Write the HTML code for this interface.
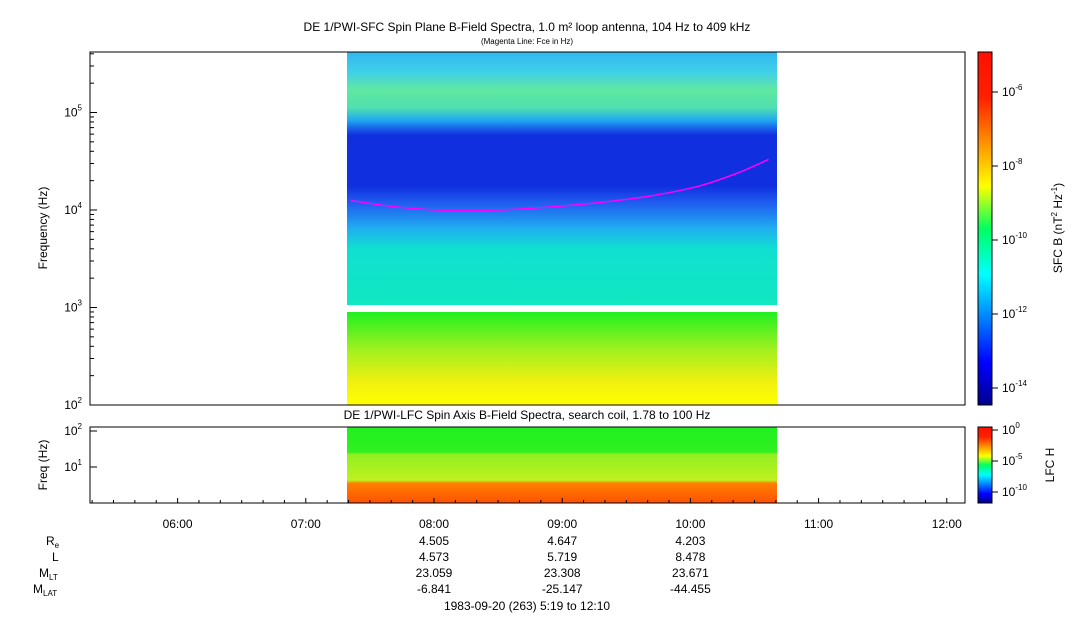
<!DOCTYPE html>
<html><head><meta charset="utf-8"><style>
body{margin:0;background:#fff;font-family:"Liberation Sans",sans-serif}
svg text{font-family:"Liberation Sans",sans-serif;fill:#000}
</style></head><body>
<svg id="c" width="1083" height="620" xmlns="http://www.w3.org/2000/svg">
<defs>
<linearGradient id="jet" x1="0" y1="1" x2="0" y2="0">
<stop offset="0" stop-color="#00008f"/><stop offset="0.12" stop-color="#0000ff"/><stop offset="0.37" stop-color="#00ffff"/><stop offset="0.5" stop-color="#00ff60"/><stop offset="0.62" stop-color="#ffff00"/><stop offset="0.87" stop-color="#ff2000"/><stop offset="1" stop-color="#ff1000"/>
</linearGradient>
<linearGradient id="topband" x1="0" y1="0" x2="0" y2="1">
<stop offset="0" stop-color="#30b8f0"/><stop offset="0.08" stop-color="#40d0e8"/><stop offset="0.15" stop-color="#60e8a0"/><stop offset="0.22" stop-color="#50e0b0"/><stop offset="0.27" stop-color="#20a8f0"/><stop offset="0.31" stop-color="#1850e8"/><stop offset="0.33" stop-color="#1030e0"/><stop offset="0.53" stop-color="#1030e0"/><stop offset="0.6" stop-color="#2060f0"/><stop offset="0.7" stop-color="#20b0f0"/><stop offset="0.78" stop-color="#10e0d0"/><stop offset="1" stop-color="#10e8c0"/>
</linearGradient>
<linearGradient id="lowband" x1="0" y1="0" x2="0" y2="1">
<stop offset="0" stop-color="#20f020"/><stop offset="0.4" stop-color="#a0f020"/><stop offset="0.75" stop-color="#f0f010"/><stop offset="1" stop-color="#ffff00"/>
</linearGradient>
<linearGradient id="lfc" x1="0" y1="0" x2="0" y2="1">
<stop offset="0" stop-color="#20f020"/><stop offset="0.33" stop-color="#30f020"/><stop offset="0.36" stop-color="#90f020"/><stop offset="0.7" stop-color="#c0f020"/><stop offset="0.74" stop-color="#ff8000"/><stop offset="1" stop-color="#ff5000"/>
</linearGradient>
</defs>
<text x="527" y="31" font-size="12" text-anchor="middle">DE 1/PWI-SFC  Spin Plane B-Field Spectra, 1.0 m² loop antenna, 104 Hz to 409 kHz</text>
<text x="527" y="44" font-size="8" text-anchor="middle">(Magenta Line: Fce in Hz)</text>
<rect x="347" y="52" width="430" height="253" fill="url(#topband)"/>
<rect x="347" y="312" width="430" height="93" fill="url(#lowband)"/>
<rect x="347" y="427" width="430" height="76" fill="url(#lfc)"/>
<rect x="90" y="52" width="875" height="353" fill="none" stroke="#000"/>
<rect x="90" y="427" width="875" height="76" fill="none" stroke="#000"/>
<text x="527" y="419" font-size="12" text-anchor="middle">DE 1/PWI-LFC  Spin Axis B-Field Spectra, search coil, 1.78 to 100 Hz</text>
<text transform="translate(47,228) rotate(-90)" font-size="12" text-anchor="middle">Frequency (Hz)</text>
<text transform="translate(47,465) rotate(-90)" font-size="12" text-anchor="middle">Freq (Hz)</text>
<rect x="978" y="52" width="14" height="353" fill="url(#jet)" stroke="#000"/>
<rect x="978" y="427" width="14" height="76" fill="url(#jet)" stroke="#000"/>
<text transform="translate(1062,228) rotate(-90)" font-size="12" text-anchor="middle">SFC B (nT<tspan font-size="8" dy="-5">2</tspan><tspan dy="5"> Hz</tspan><tspan font-size="8" dy="-5">-1</tspan><tspan dy="5">)</tspan></text>
<text transform="translate(1054,465) rotate(-90)" font-size="12" text-anchor="middle">LFC H</text>
<text x="46" y="545" font-size="12">R<tspan font-size="8" dy="3">e</tspan></text>
<text x="52" y="561" font-size="12">L</text>
<text x="39" y="577" font-size="12">M<tspan font-size="8" dy="3">LT</tspan></text>
<text x="33" y="593" font-size="12">M<tspan font-size="8" dy="3">LAT</tspan></text>
<text x="527" y="610" font-size="12" text-anchor="middle">1983-09-20 (263) 5:19 to 12:10</text>
</svg>
<script>
const fceTimes=[7.35,7.72,8.11,8.50,8.89,9.28,9.67,10.06,10.37,10.61];
const fceFreq=[12500,10700,9900,10000,10700,11900,13800,17500,24000,33000];
const timeTicks=["06:00","07:00","08:00","09:00","10:00","11:00","12:00"];
const tickHours=[6,7,8,9,10,11,12];
const reVals=["4.505","4.647","4.203"];
const lVals=["4.573","5.719","8.478"];
const mltVals=["23.059","23.308","23.671"];
const mlatVals=["-6.841","-25.147","-44.455"];
const ephemHours=[8,9,10];
const sfcDecades=[2,3,4,5];
const lfcDecades=[1,2];
const cbExp=[-6,-8,-10,-12,-14];
const lfcCbExp=[0,-5,-10];
const NS="http://www.w3.org/2000/svg";
const svg=document.getElementById('c');
function xT(h){return 90+(h-(5+19/60))*128.2;}
function yF(f){return 405-(Math.log10(f)-2)*97.5;}
function yL(f){return 467-(Math.log10(f)-1)*36;}
function yCb(e){return 92+(-6-e)*37;}
function yLcb(e){return 430-e*6.2;}
function mk(t,a,txt){const e=document.createElementNS(NS,t);for(const k in a)e.setAttribute(k,a[k]);if(txt!==undefined)e.textContent=txt;svg.appendChild(e);return e;}
const pts=fceTimes.map((t,i)=>[xT(t),yF(fceFreq[i])]);
let d="M"+pts[0][0]+","+pts[0][1];
for(let i=0;i<pts.length-1;i++){const p0=pts[Math.max(0,i-1)],p1=pts[i],p2=pts[i+1],p3=pts[Math.min(pts.length-1,i+2)];
 d+=" C"+(p1[0]+(p2[0]-p0[0])/6)+","+(p1[1]+(p2[1]-p0[1])/6)+" "+(p2[0]-(p3[0]-p1[0])/6)+","+(p2[1]-(p3[1]-p1[1])/6)+" "+p2[0]+","+p2[1];}
const p=mk('path',{d:d,fill:'none',stroke:'#ff00ff','stroke-width':1.5});


tickHours.forEach((h,i)=>{const x=xT(h);
 let l=mk('line',{x1:x,x2:x,y1:503,y2:498,stroke:'#000'});
 
 
 for(let m=1;m<6;m++){const xm=xT(h-1+m/6);if(xm>90){let q=mk('line',{x1:xm,x2:xm,y1:503,y2:500,stroke:'#000'});}}
 let t=mk('text',{x:x,y:528,'font-size':12,'text-anchor':'middle'},timeTicks[i]);
 
 
});
[[reVals,545],[lVals,561],[mltVals,577],[mlatVals,593]].forEach(([arr,y])=>{arr.forEach((v,i)=>{
 let t=mk('text',{x:xT(ephemHours[i]),y:y,'font-size':12,'text-anchor':'middle'},v);
 
 });});
function ylabel(x,y,base,exp,name){const t=mk('text',{x:x,y:y+4,'font-size':12,'text-anchor':'end'});t.innerHTML=base+'<tspan font-size="8" dy="-6">'+exp+'</tspan>';}
sfcDecades.forEach(e=>{const y=yF(Math.pow(10,e));mk('line',{x1:90,x2:97,y1:y,y2:y,stroke:'#000'});
 for(let k=2;k<10&&e<5||k<5;k++){const ym=yF(k*Math.pow(10,e));if(ym>52)mk('line',{x1:90,x2:94,y1:ym,y2:ym,stroke:'#000'});}
 ylabel(82,y,'10',e,'y-tick-label');});
lfcDecades.forEach(e=>{const y=yL(Math.pow(10,e));mk('line',{x1:90,x2:97,y1:y,y2:y,stroke:'#000'});ylabel(82,y,'10',e,'lfc-y-tick-label');});
cbExp.forEach(e=>{const y=yCb(e);mk('line',{x1:992,x2:998,y1:y,y2:y,stroke:'#000'});const t=mk('text',{x:1002,y:y+4,'font-size':12});t.innerHTML='10<tspan font-size="8" dy="-6">'+e+'</tspan>';});
lfcCbExp.forEach(e=>{const y=yLcb(e);mk('line',{x1:992,x2:998,y1:y,y2:y,stroke:'#000'});const t=mk('text',{x:1002,y:y+4,'font-size':12});t.innerHTML='10<tspan font-size="8" dy="-6">'+e+'</tspan>';});
</script>
</body></html>
